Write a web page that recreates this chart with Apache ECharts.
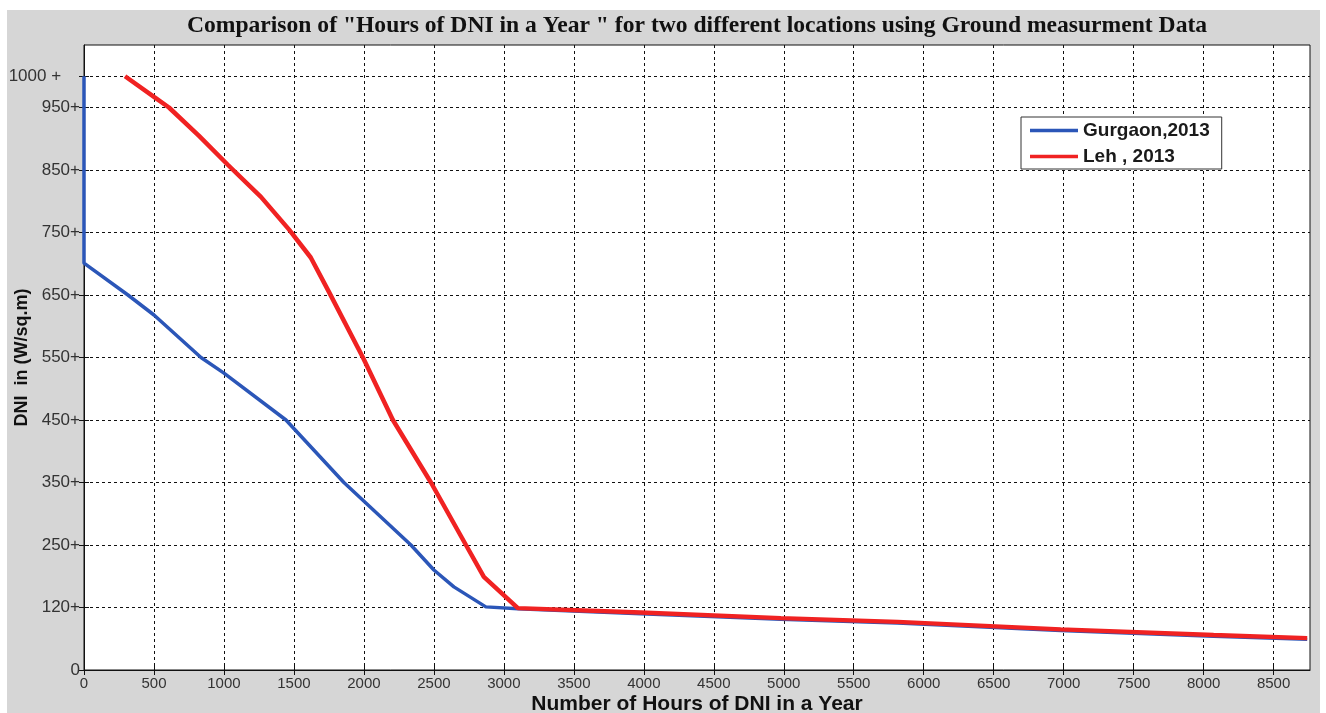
<!DOCTYPE html>
<html>
<head>
<meta charset="utf-8">
<script src="https://cdn.jsdelivr.net/npm/echarts@6/dist/echarts.min.js"></script>
<style>
  html, body { margin: 0; padding: 0; background: #ffffff; }
  #panel { position: absolute; left: 7px; top: 10px; width: 1313px; height: 703px; background: #d6d6d6; }
  #chart { position: absolute; left: 0; top: 0; width: 1326px; height: 713px; }
</style>
</head>
<body>
<div id="panel"></div>
<div id="chart"></div>
<script>
// ---- data (y in axis position units) ----
const gurgaonHours = [0, 0, 314, 500, 836, 1000, 1443, 1857, 2336, 2500, 2643, 2871, 3100, 3979, 4979, 5814, 6979, 8071, 8740];
const gurgaonDNI   = [950, 651, 600, 568, 500, 475, 400, 300, 200, 160, 133, 101, 98, 90, 81, 75, 63, 54, 49];

const lehHours = [293, 500, 607, 820, 1029, 1264, 1464, 1620, 1750, 1993, 2207, 2479, 2729, 2857, 3100, 3979, 4979, 5814, 6979, 8071, 8740];
const lehDNI   = [950, 917, 900, 855, 808, 757, 705, 660, 605, 500, 400, 300, 200, 149, 99, 92, 83, 77, 65, 56, 51];

const yTickValues = [0, 100, 200, 300, 400, 500, 600, 700, 800, 900, 950];
const yTickLabels = ['0', '120+', '250+', '350+', '450+', '550+', '650+', '750+', '850+', '950+', '1000 +    '];
const xTickValues = [0, 500, 1000, 1500, 2000, 2500, 3000, 3500, 4000, 4500, 5000, 5500, 6000, 6500, 7000, 7500, 8000, 8500];
const xTickLabels = ['0', '500', '1000', '1500', '2000', '2500', '3000', '3500', '4000', '4500', '5000', '5500', '6000', '6500', '7000', '7500', '8000', '8500'];

const seriesNames = ['Gurgaon,2013', 'Leh , 2013'];
const titleText = 'Comparison of "Hours of DNI in a Year " for two different locations using Ground measurment Data';
const xName = 'Number of Hours of DNI in a Year';
const yName = 'DNI  in (W/sq.m)';

// ---- chart ----
const chart = echarts.init(document.getElementById('chart'), null, { renderer: 'canvas' });
const pair = (xs, ys) => xs.map((x, i) => [x, ys[i]]);
const labelMap = {};
yTickValues.forEach((v, i) => { labelMap[v] = yTickLabels[i]; });
const xLabelMap = {};
xTickValues.forEach((v, i) => { xLabelMap[v] = xTickLabels[i]; });

const gridLine = { show: true, lineStyle: { color: '#111', width: 1, type: [3, 3] } };
const lineIcon = 'path://M0,0 L48,0 L48,3.5 L0,3.5 Z';

chart.setOption({
  backgroundColor: 'transparent',
  animation: false,
  title: {
    text: titleText,
    left: 692, textAlign: 'center', top: 9,
    textStyle: { fontFamily: 'Liberation Serif', fontWeight: 'bold', fontSize: 23.6, color: '#111' }
  },
  legend: {
    data: [{ name: seriesNames[0], icon: lineIcon }, { name: seriesNames[1], icon: lineIcon }],
    orient: 'vertical',
    left: 1021, top: 117,
    padding: [4, 12, 3, 9],
    itemGap: 7,
    itemWidth: 48, itemHeight: 20,
    backgroundColor: '#ffffff',
    borderColor: '#333', borderWidth: 1, borderRadius: 0,
    textStyle: { fontFamily: 'Liberation Sans', fontSize: 19, fontWeight: 'bold', color: '#1a1a1a' }
  },
  grid: {
    left: 84, right: 16, top: 45, bottom: 43,
    outerBoundsMode: 'none', containLabel: false,
    show: true, backgroundColor: '#ffffff', borderColor: '#111', borderWidth: 1
  },
  xAxis: [{
    type: 'value', min: 0, max: 8760,
    name: xName, nameLocation: 'middle', nameGap: 24, nameMoveOverlap: false,
    nameTextStyle: { fontFamily: 'Liberation Sans', fontWeight: 'bold', fontSize: 21, color: '#111' },
    axisLine: { show: true, lineStyle: { color: '#111' } },
    axisTick: { show: true, inside: true, length: 5, customValues: xTickValues, lineStyle: { color: '#111' } },
    axisLabel: { customValues: xTickValues, margin: 6, fontFamily: 'Liberation Sans', fontSize: 15, color: '#333',
      formatter: v => xLabelMap[v] !== undefined ? xLabelMap[v] : '' },
    splitLine: gridLine
  }, {
    type: 'value', min: 0, max: 8760, position: 'top',
    axisLine: { show: false },
    axisTick: { show: true, inside: true, length: 5, customValues: xTickValues, lineStyle: { color: '#111' } },
    axisLabel: { show: false }, splitLine: { show: false }
  }],
  yAxis: [{
    type: 'value', min: 0, max: 1000,
    name: yName, nameLocation: 'middle', nameGap: 53, nameRotate: 90, nameMoveOverlap: false,
    nameTextStyle: { fontFamily: 'Liberation Sans', fontWeight: 'bold', fontSize: 18, color: '#111' },
    axisLine: { show: true, lineStyle: { color: '#111' } },
    axisTick: { show: true, inside: true, length: 5, customValues: yTickValues, lineStyle: { color: '#111' } },
    axisLabel: { customValues: yTickValues, margin: 4, fontFamily: 'Liberation Sans', fontSize: 17, color: '#333',
      formatter: v => labelMap[v] !== undefined ? labelMap[v] : '' },
    splitLine: gridLine
  }, {
    type: 'value', min: 0, max: 1000, position: 'right',
    axisLine: { show: false },
    axisTick: { show: true, inside: true, length: 5, customValues: yTickValues, lineStyle: { color: '#111' } },
    axisLabel: { show: false }, splitLine: { show: false }
  }],
  series: [{
    name: seriesNames[0], type: 'line', symbol: 'none', smooth: false,
    data: pair(gurgaonHours, gurgaonDNI),
    lineStyle: { color: '#2b56b8', width: 3.5 },
    itemStyle: { color: '#2b56b8' }, z: 3
  }, {
    name: seriesNames[1], type: 'line', symbol: 'none', smooth: false,
    data: pair(lehHours, lehDNI),
    lineStyle: { color: '#f02222', width: 4.5 },
    itemStyle: { color: '#f02222' }, z: 4
  }]
});
</script>
</body>
</html>
